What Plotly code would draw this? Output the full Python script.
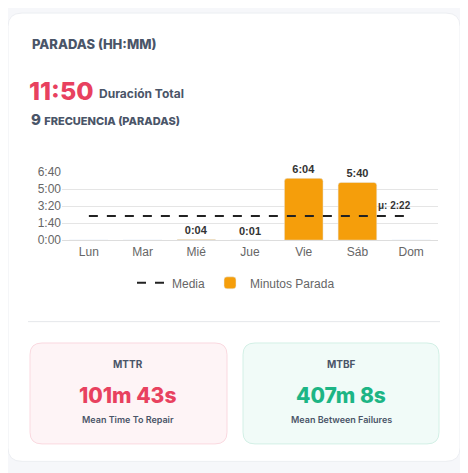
import plotly.graph_objects as go

days = ["Lun", "Mar", "Mié", "Jue", "Vie", "Sáb", "Dom"]
stop_seconds = [0, 0, 4, 1, 364, 340, 0]
bar_labels = ["", "", "<b>0:04</b>", "<b>0:01</b>", "<b>6:04</b>", "<b>5:40</b>", ""]
mean_seconds = 142
tick_vals = [0, 100, 200, 300, 400]
tick_text = ["0:00", "1:40", "3:20", "5:00", "6:40"]

W, H = 468, 473
OFF = 8  # page body margin in the browser
def px(x): return (x - OFF) / W
def py(y): return 1 - (y - OFF) / H

def rrect(x0, y0, x1, y1, r):
    a0, a1 = px(x0), px(x1)
    b0, b1 = py(y1), py(y0)
    rx, ry = r / W, r / H
    return (f"M {a0+rx},{b0} L {a1-rx},{b0} Q {a1},{b0} {a1},{b0+ry} L {a1},{b1-ry} "
            f"Q {a1},{b1} {a1-rx},{b1} L {a0+rx},{b1} Q {a0},{b1} {a0},{b1-ry} "
            f"L {a0},{b0+ry} Q {a0},{b0} {a0+rx},{b0} Z")

fig = go.Figure()
fig.add_trace(go.Scatter(x=days, y=[mean_seconds] * len(days), mode="lines", name="Media",
                         line=dict(color="#222", width=2, dash="dash"), hoverinfo="skip"))
fig.add_trace(go.Bar(x=days, y=stop_seconds, name="Minutos Parada", marker_color="#f59e0b",
                     marker_cornerradius=3, width=0.72,
                     text=bar_labels, textposition="outside",
                     textfont=dict(size=11, color="#333", family="Liberation Sans"),
                     cliponaxis=False))

shapes = [
    dict(type="path", path=rrect(8, 6, 460, 468, 14), xref="paper", yref="paper",
         fillcolor="white", line=dict(color="#eceef2", width=1), layer="below"),
    dict(type="line", xref="paper", yref="paper", x0=px(28), x1=px(440), y0=py(324), y1=py(324),
         line=dict(color="#e5e7eb", width=1)),
    dict(type="path", path=rrect(30, 346, 227, 450, 12), xref="paper", yref="paper",
         fillcolor="#fef4f6", line=dict(color="#fad9e0", width=1), layer="below"),
    dict(type="path", path=rrect(243, 346, 439, 450, 12), xref="paper", yref="paper",
         fillcolor="#f1fbf8", line=dict(color="#d3f0e6", width=1), layer="below"),
]

head = "Inter, Lato, sans-serif"
slate = "#4a5568"
ann = [
    dict(x=px(30), y=py(38), text="PARADAS (HH:MM)", font=dict(size=13, color=slate, family=head, weight=800), xanchor="left"),
    dict(x=px(27), y=py(86), text="11:50", font=dict(size=25, color="#e8415f", family=head, weight=800), xanchor="left"),
    dict(x=px(97), y=py(89), text="Duración Total", font=dict(size=12, color=slate, family=head, weight=700), xanchor="left"),
    dict(x=px(29), y=py(116), text="9 <span style='font-size:11px'>FRECUENCIA (PARADAS)</span>",
         font=dict(size=15, color=slate, family=head, weight=800), xanchor="left"),
    dict(x=px(394), y=py(204), text="<b>μ: 2:22</b>", font=dict(size=10, color="#333", family="Liberation Sans"), xanchor="center"),
    dict(x=px(128), y=py(368), text="MTTR", font=dict(size=10, color=slate, family=head, weight=700)),
    dict(x=px(128), y=py(400), text="101m 43s", font=dict(size=21, color="#e8415f", family=head, weight=800)),
    dict(x=px(128), y=py(425), text="Mean Time To Repair", font=dict(size=9, color=slate, family=head, weight=600)),
    dict(x=px(341), y=py(368), text="MTBF", font=dict(size=10, color=slate, family=head, weight=700)),
    dict(x=px(341), y=py(400), text="407m 8s", font=dict(size=21, color="#1db585", family=head, weight=800)),
    dict(x=px(341), y=py(425), text="Mean Between Failures", font=dict(size=9, color=slate, family=head, weight=600)),
]
for a in ann:
    a.update(xref="paper", yref="paper", showarrow=False, yanchor="middle")
    a.setdefault("xanchor", "center")

fig.update_layout(
    width=W, height=H, margin=dict(l=0, r=0, t=0, b=0),
    paper_bgcolor="#f6f7fa", plot_bgcolor="white",
    font=dict(family="Liberation Sans, Arial", size=12, color="#666"),
    xaxis=dict(domain=[px(62), px(438)], showgrid=False, showline=True, linecolor="#ddd", ticks=""),
    yaxis=dict(domain=[py(240), py(170)], range=[0, 400], tickvals=tick_vals, ticktext=tick_text,
               gridcolor="#e5e5e5", zeroline=False, showline=False),
    legend=dict(orientation="h", x=px(236), xanchor="center", y=py(284), yanchor="middle",
                font=dict(size=12, color="#666"), bgcolor="rgba(0,0,0,0)"),
    showlegend=True,
    shapes=shapes, annotations=ann,
)
fig.write_html("out.html")
